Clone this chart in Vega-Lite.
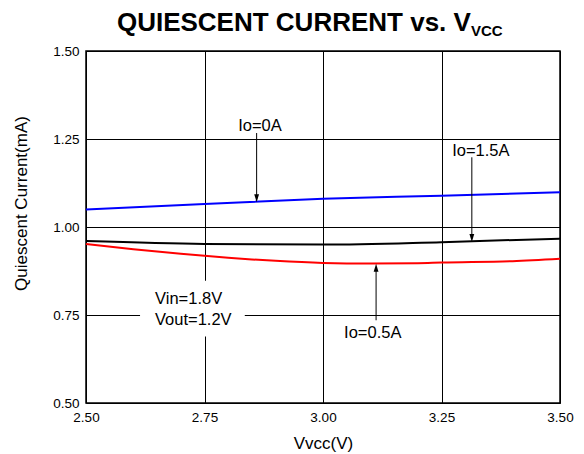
{
  "$schema": "https://vega.github.io/schema/vega-lite/v6.json",
  "width": 474,
  "height": 352,
  "autosize": {"type": "none"},
  "padding": {"left": 86, "top": 51, "right": 24, "bottom": 51},
  "background": "white",
  "config": {
    "font": "Liberation Sans",
    "view": {"stroke": "black", "strokeWidth": 1.5},
    "axis": {
      "domain": false,
      "ticks": false,
      "grid": true,
      "gridColor": "#000000",
      "gridOpacity": 1,
      "gridWidth": 1,
      "labelFont": "Liberation Sans",
      "labelFontSize": 13.5,
      "labelColor": "black",
      "labelFlush": false,
      "labelOverlap": false,
      "labelBound": false,
      "titleFont": "Liberation Sans",
      "titleFontSize": 17,
      "titleFontWeight": "normal",
      "titleColor": "black"
    }
  },
  "datasets": {
    "curves": [
      {"vcc": 2.5, "iq": 1.050, "io": "0A"},
      {"vcc": 2.75, "iq": 1.065, "io": "0A"},
      {"vcc": 3.0, "iq": 1.080, "io": "0A"},
      {"vcc": 3.25, "iq": 1.089, "io": "0A"},
      {"vcc": 3.5, "iq": 1.099, "io": "0A"},
      {"vcc": 2.5, "iq": 0.952, "io": "0.5A"},
      {"vcc": 2.6, "iq": 0.937, "io": "0.5A"},
      {"vcc": 2.7, "iq": 0.924, "io": "0.5A"},
      {"vcc": 2.75, "iq": 0.918, "io": "0.5A"},
      {"vcc": 2.85, "iq": 0.908, "io": "0.5A"},
      {"vcc": 2.9, "iq": 0.904, "io": "0.5A"},
      {"vcc": 3.0, "iq": 0.898, "io": "0.5A"},
      {"vcc": 3.1, "iq": 0.896, "io": "0.5A"},
      {"vcc": 3.2, "iq": 0.897, "io": "0.5A"},
      {"vcc": 3.25, "iq": 0.899, "io": "0.5A"},
      {"vcc": 3.4, "iq": 0.903, "io": "0.5A"},
      {"vcc": 3.5, "iq": 0.910, "io": "0.5A"},
      {"vcc": 2.5, "iq": 0.960, "io": "1.5A"},
      {"vcc": 2.75, "iq": 0.952, "io": "1.5A"},
      {"vcc": 3.0, "iq": 0.950, "io": "1.5A"},
      {"vcc": 3.25, "iq": 0.957, "io": "1.5A"},
      {"vcc": 3.5, "iq": 0.967, "io": "1.5A"}
    ],
    "arrows": [
      {"x": 2.860, "y1": 1.267, "y2": 1.082, "hx": 1.082, "dir": "down"},
      {"x": 3.314, "y1": 1.198, "y2": 0.969, "hx": 0.969, "dir": "down"},
      {"x": 3.112, "y1": 0.735, "y2": 0.884, "hx": 0.884, "dir": "up"}
    ],
    "labels": [
      {"x": 2.867, "y": 1.288, "text": "Io=0A"},
      {"x": 3.333, "y": 1.215, "text": "Io=1.5A"},
      {"x": 3.105, "y": 0.700, "text": "Io=0.5A"}
    ],
    "cond": [
      {"x": 2.6456, "y": 0.796, "text": "Vin=1.8V"},
      {"x": 2.6456, "y": 0.737, "text": "Vout=1.2V"}
    ],
    "box": [{"x1": 2.614, "x2": 2.835, "y1": 0.689, "y2": 0.847}],
    "title": [{"x": 3.312, "y": 1.557, "text": "QUIESCENT CURRENT vs. V"}],
    "sub": [{"x": 3.312, "y": 1.543, "text": "VCC"}]
  },
  "layer": [
    {
      "data": {"name": "box"},
      "mark": {"type": "rect", "fill": "white", "stroke": null},
      "encoding": {
        "x": {"field": "x1", "type": "quantitative", "scale": {"domain": [2.5, 3.5], "nice": false}, "axis": {"values": [2.5, 2.75, 3.0, 3.25, 3.5], "format": ".2f", "title": "Vvcc(V)", "labelPadding": 7, "titleBaseline": "middle", "titleY": 40}},
        "x2": {"field": "x2"},
        "y": {"field": "y1", "type": "quantitative", "scale": {"domain": [0.5, 1.5], "nice": false}, "axis": {"values": [0.5, 0.75, 1.0, 1.25, 1.5], "format": ".2f", "title": "Quiescent Current(mA)", "labelPadding": 7, "titleBaseline": "middle", "titleX": -65, "titleY": 152}},
        "y2": {"field": "y2"}
      }
    },
    {
      "data": {"name": "curves"},
      "mark": {"type": "line", "strokeWidth": 2, "interpolate": "monotone"},
      "encoding": {
        "x": {"field": "vcc", "type": "quantitative"},
        "y": {"field": "iq", "type": "quantitative"},
        "color": {"field": "io", "type": "nominal", "scale": {"domain": ["0A", "0.5A", "1.5A"], "range": ["#0000FF", "#FF0000", "#000000"]}, "legend": null}
      }
    },
    {
      "data": {"name": "arrows"},
      "mark": {"type": "rule", "color": "black", "strokeWidth": 1},
      "encoding": {
        "x": {"field": "x", "type": "quantitative"},
        "y": {"field": "y1", "type": "quantitative"},
        "y2": {"field": "y2"}
      }
    },
    {
      "data": {"name": "arrows"},
      "mark": {"type": "point", "filled": true, "color": "black", "opacity": 1, "size": 64, "strokeWidth": 0},
      "encoding": {
        "x": {"field": "x", "type": "quantitative"},
        "y": {"field": "hx", "type": "quantitative"},
        "shape": {"field": "dir", "type": "nominal", "scale": {"domain": ["down", "up"], "range": ["M-0.6,-1L0.6,-1L0,1Z", "M-0.6,1L0.6,1L0,-1Z"]}, "legend": null}
      }
    },
    {
      "data": {"name": "labels"},
      "mark": {"type": "text", "font": "Liberation Sans", "fontSize": 16.5, "align": "center", "baseline": "middle", "color": "black"},
      "encoding": {
        "x": {"field": "x", "type": "quantitative"},
        "y": {"field": "y", "type": "quantitative"},
        "text": {"field": "text"}
      }
    },
    {
      "data": {"name": "cond"},
      "mark": {"type": "text", "font": "Liberation Sans", "fontSize": 16.5, "align": "left", "baseline": "middle", "color": "black"},
      "encoding": {
        "x": {"field": "x", "type": "quantitative"},
        "y": {"field": "y", "type": "quantitative"},
        "text": {"field": "text"}
      }
    },
    {
      "data": {"name": "title"},
      "mark": {"type": "text", "font": "Liberation Sans", "fontSize": 26, "fontWeight": "bold", "align": "right", "baseline": "alphabetic", "color": "black"},
      "encoding": {
        "x": {"field": "x", "type": "quantitative"},
        "y": {"field": "y", "type": "quantitative"},
        "text": {"field": "text"}
      }
    },
    {
      "data": {"name": "sub"},
      "mark": {"type": "text", "font": "Liberation Sans", "fontSize": 15, "fontWeight": "bold", "align": "left", "baseline": "alphabetic", "color": "black"},
      "encoding": {
        "x": {"field": "x", "type": "quantitative"},
        "y": {"field": "y", "type": "quantitative"},
        "text": {"field": "text"}
      }
    }
  ]
}
